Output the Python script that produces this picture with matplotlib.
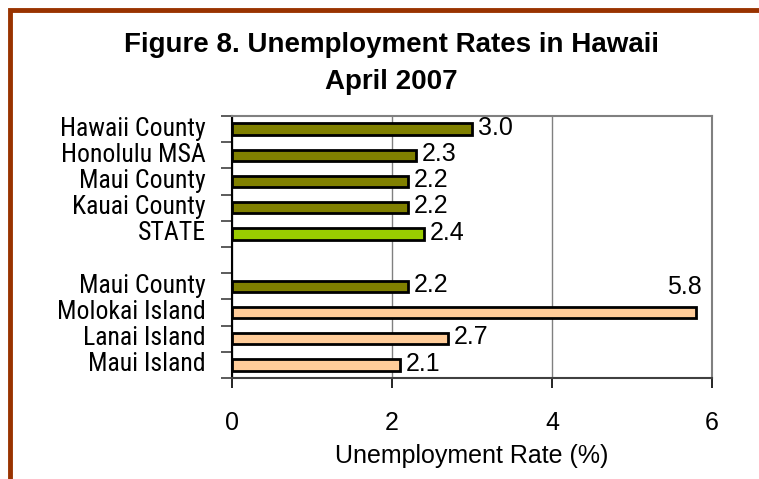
"""Horizontal bar chart of Hawaii unemployment rates, April 2007."""
import matplotlib

matplotlib.use("Agg")
import matplotlib.pyplot as plt
import matplotlib.transforms as mtransforms
from matplotlib.patches import Rectangle
from matplotlib import font_manager

# data
labels = [
    "Hawaii County",
    "Honolulu MSA",
    "Maui County",
    "Kauai County",
    "STATE",
    "Maui County",
    "Molokai Island",
    "Lanai Island",
    "Maui Island",
]
rates = [3.0, 2.3, 2.2, 2.2, 2.4, 2.2, 5.8, 2.7, 2.1]
groups = ["county", "county", "county", "county", "state",
          "county", "island", "island", "island"]
slots = [0, 1, 2, 3, 4, 6, 7, 8, 9]  # slot 5 left blank between the two blocks
xticks = [0, 2, 4, 6]

colors = {"county": "#808000", "state": "#99CC00", "island": "#FFCC99"}

# condensed face for the category names, plain Arial look-alike elsewhere
names = {f.name for f in font_manager.fontManager.ttflist}
narrow = "Roboto Condensed" if "Roboto Condensed" in names else "Liberation Sans"
cat_size = 18.5 if narrow == "Roboto Condensed" else 16
plain = "Liberation Sans"


def main():
    fig = plt.figure(figsize=(7.59, 4.79), dpi=100)
    fig.patch.set_facecolor("white")

    # brown frame, only top and left edges fall inside the image
    fig.add_artist(Rectangle((9.5 / 759, -0.2), 1.2, 1.2 - 9.5 / 479,
                             transform=fig.transFigure, fill=False,
                             edgecolor="#993300", linewidth=3.5))

    fig.text(391 / 759, 1 - 45 / 479, "Figure 8. Unemployment Rates in Hawaii",
             ha="center", va="center", fontsize=20, fontweight="bold",
             family=plain)
    fig.text(391 / 759, 1 - 82 / 479, "April 2007",
             ha="center", va="center", fontsize=20, fontweight="bold",
             family=plain)

    ax = fig.add_axes([232 / 759, 1 - 378 / 479, 480 / 759, 262 / 479])
    bar_colors = [colors[g] for g in groups]
    ax.barh(slots, rates, height=0.44, color=bar_colors,
            edgecolor="black", linewidth=2, zorder=3)

    for s, r in zip(slots, rates):
        if r > 5:
            ax.annotate(f"{r:.1f}", (r, s), xytext=(-8, 18),
                        textcoords="offset points", ha="center", va="center",
                        fontsize=18, family=plain)
        else:
            ax.annotate(f"{r:.1f}", (r, s), xytext=(4, 1),
                        textcoords="offset points", ha="left", va="center",
                        fontsize=18, family=plain)

    ax.set_xlim(0, 6)
    ax.set_ylim(9.5, -0.5)
    ax.set_xticks(xticks)
    ax.set_xticklabels([str(t) for t in xticks], fontsize=18, family=plain)
    ax.tick_params(axis="x", direction="out", length=7, width=1.2,
                   color="black", pad=17)

    ax.set_yticks(slots)
    ax.set_yticklabels(labels, fontsize=cat_size, family=narrow)
    ax.tick_params(axis="y", which="major", length=0, pad=19)
    ax.set_yticks([i - 0.5 for i in range(11)], minor=True)
    ax.tick_params(axis="y", which="minor", direction="out", length=8,
                   width=1.2, color="#404040")

    # nudge the category names a little above the bar centres
    lift = mtransforms.ScaledTranslation(0, 3 / 100, fig.dpi_scale_trans)
    for lab in ax.get_yticklabels():
        lab.set_transform(lab.get_transform() + lift)

    ax.grid(axis="x", color="#808080", linewidth=1, zorder=0)
    ax.set_axisbelow(True)
    for side in ("top", "right"):
        ax.spines[side].set_color("#808080")
        ax.spines[side].set_linewidth(1.5)
    ax.spines["left"].set_color("black")
    ax.spines["left"].set_linewidth(1.5)
    ax.spines["bottom"].set_color("#404040")
    ax.spines["bottom"].set_linewidth(1.5)

    ax.set_xlabel("Unemployment Rate (%)", fontsize=18, family=plain,
                  labelpad=6)

    fig.savefig("out.png", dpi=100)


if __name__ == "__main__":
    main()
